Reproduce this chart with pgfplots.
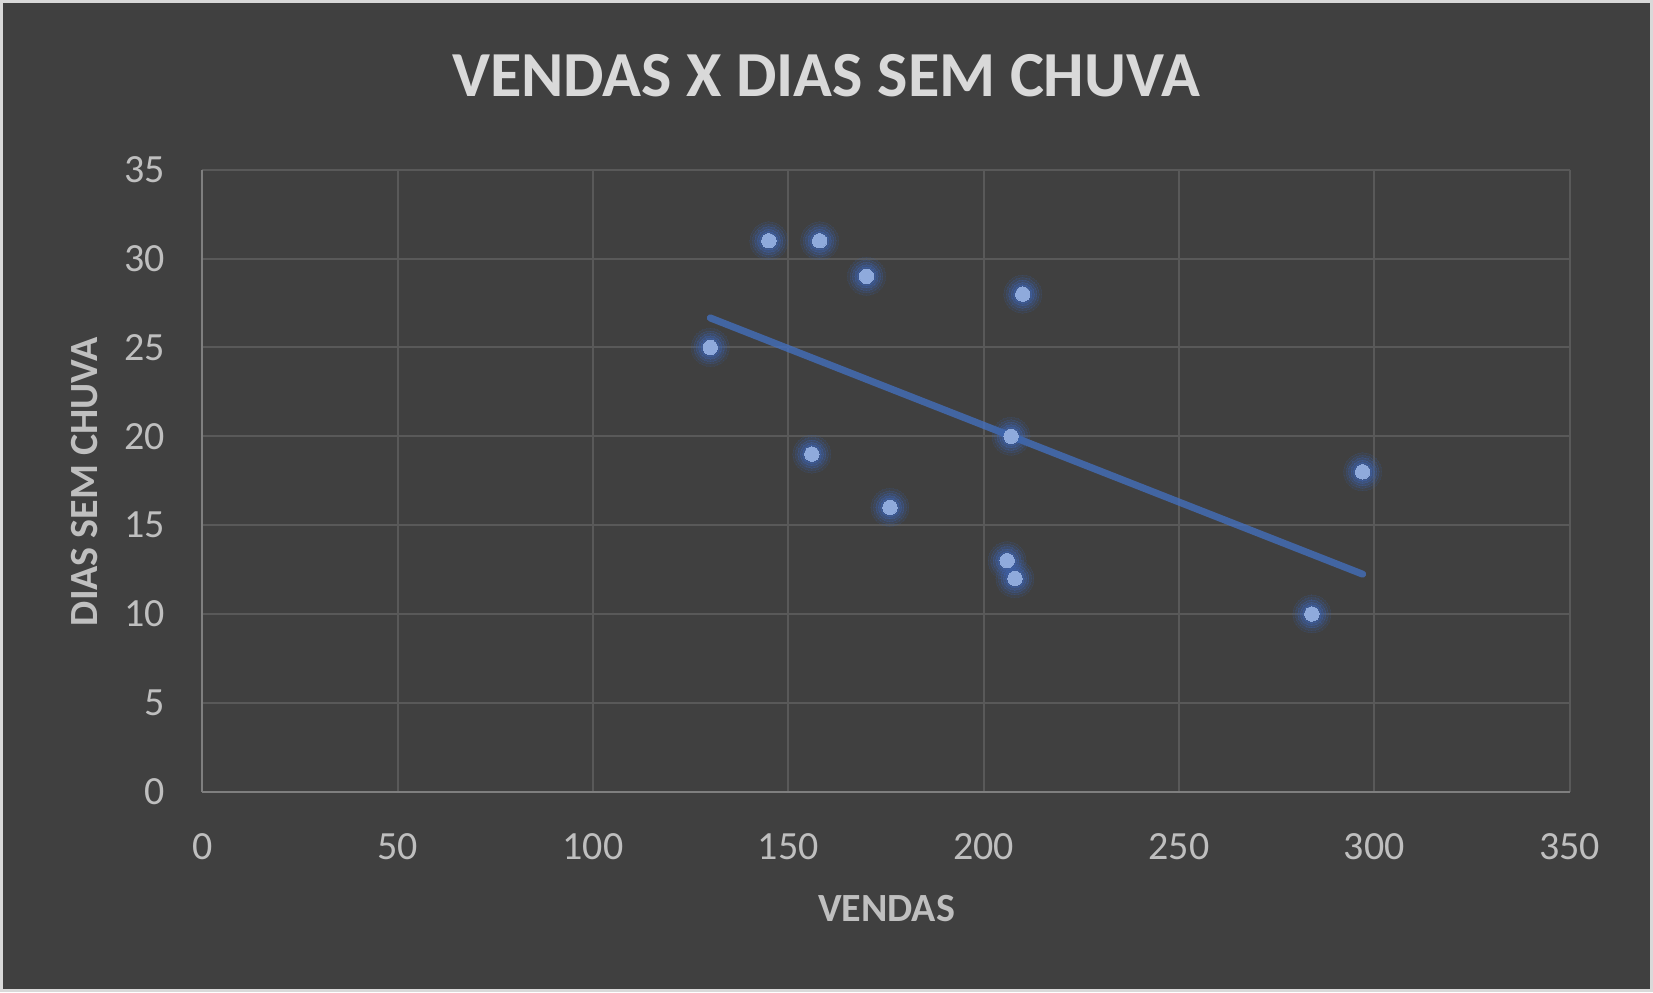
\documentclass[border=0pt]{standalone}
\usepackage{pgfplots}
\usepackage{pgfplotstable}
\pgfplotsset{compat=1.18}
\usepackage{fontspec}
\setmainfont{Carlito}
\definecolor{bg}{HTML}{404040}
\definecolor{bordercol}{HTML}{D9D9D9}
\definecolor{gridcol}{HTML}{595959}
\definecolor{axiscol}{HTML}{7F7F7F}
\definecolor{ticktext}{HTML}{BFBFBF}
\definecolor{titletext}{HTML}{D9D9D9}
\definecolor{dotfill}{HTML}{8FAADC}
\definecolor{glow}{HTML}{3D64B0}
\definecolor{trend}{HTML}{4472C4}

\pgfplotstableread{
x y
130 25
145 31
158 31
170 29
210 28
156 19
176 16
207 20
206 13
208 12
284 10
297 18
}\vendas

\begin{document}
\begin{tikzpicture}
\fill[bg] (0,0) rectangle (826.5pt,496pt);
\draw[bordercol, line width=1.5pt] (0.75pt,0.75pt) rectangle (825.75pt,495.25pt);
\path[use as bounding box] (0,0) rectangle (826.5pt,496pt);
\begin{axis}[
  at={(101.2pt,100.15pt)}, anchor=south west,
  scale only axis, width=683.65pt, height=311pt,
  xmin=0, xmax=350, ymin=0, ymax=35,
  xtick={0,50,...,350}, ytick={0,5,...,35},
  axis x line*=bottom, axis y line*=left,
  axis line style={axiscol, line width=1pt},
  major tick length=0pt,
  grid=major,
  major grid style={gridcol, line width=1pt},
  /pgf/number format/assume math mode=true,
  ticklabel style={font=\fontsize{20}{24}\selectfont, text=ticktext},
  xticklabel style={yshift=-17.5pt},
  yticklabel style={xshift=-15.2pt},
  clip=false,
]
\addplot[glow, opacity=0.10, only marks, mark=*, mark size=9.5pt, mark options={line width=0pt, fill=glow}] table[x=x,y=y] {\vendas};
\addplot[glow, opacity=0.14, only marks, mark=*, mark size=8.2pt, mark options={line width=0pt, fill=glow}] table[x=x,y=y] {\vendas};
\addplot[glow, opacity=0.20, only marks, mark=*, mark size=7pt, mark options={line width=0pt, fill=glow}] table[x=x,y=y] {\vendas};
\addplot[glow, opacity=0.26, only marks, mark=*, mark size=5.8pt, mark options={line width=0pt, fill=glow}] table[x=x,y=y] {\vendas};
\addplot[glow, opacity=0.32, only marks, mark=*, mark size=4.6pt, mark options={line width=0pt, fill=glow}] table[x=x,y=y] {\vendas};
\addplot[dotfill, only marks, mark=*, mark size=3.6pt, mark options={line width=0pt, fill=dotfill}] table[x=x,y=y] {\vendas};
\addplot[trend, draw opacity=0.75, line width=3.5pt, line cap=round, no marks] coordinates {(130,26.66) (297,12.24)};
\end{axis}
\node[text=titletext, font=\fontsize{32.1}{38}\selectfont\bfseries] at (413pt,458pt) {VENDAS X DIAS SEM CHUVA};
\node[text=ticktext, font=\fontsize{20}{24}\selectfont\bfseries] at (443.3pt,41.6pt) {VENDAS};
\node[text=ticktext, font=\fontsize{20}{24}\selectfont\bfseries, rotate=90] at (42.2pt,255.1pt) {DIAS SEM CHUVA};
\end{tikzpicture}
\end{document}
